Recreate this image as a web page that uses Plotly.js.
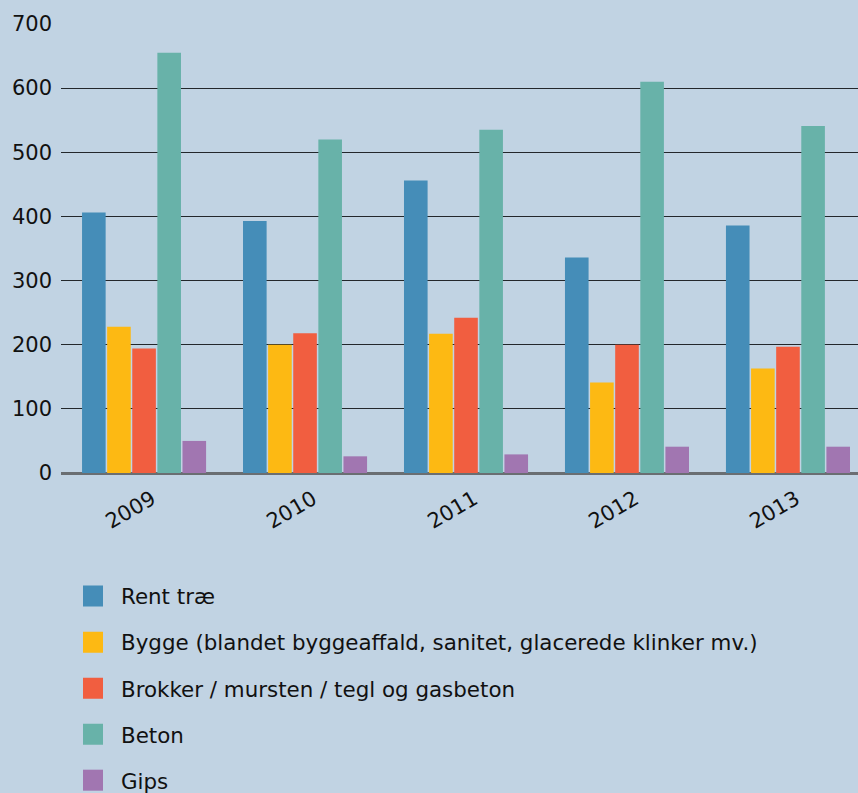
<!DOCTYPE html>
<html>
<head>
<meta charset="utf-8">
<script src="https://cdn.plot.ly/plotly-3.0.1.min.js"></script>
<style>
html,body{margin:0;padding:0;background:#C1D3E3;}
#chart{width:858px;height:793px;}
</style>
</head>
<body>
<div id="chart"></div>
<script>
const years = ["2009", "2010", "2011", "2012", "2013"];
const seriesNames = ["Rent træ", "Bygge (blandet byggeaffald, sanitet, glacerede klinker mv.)", "Brokker / mursten / tegl og gasbeton", "Beton", "Gips"];
const rentTrae = [406, 393, 456, 336, 386];
const bygge = [228, 200, 217, 141, 163];
const brokker = [194, 218, 242, 200, 197];
const beton = [655, 520, 535, 610, 541];
const gips = [50, 26, 29, 41, 41];
const colors = ["#458DB8", "#FDB913", "#F15E40", "#68B2A9", "#A176B1"];
const yTicks = [0, 100, 200, 300, 400, 500, 600, 700];

const allValues = [rentTrae, bygge, brokker, beton, gips];
const traces = allValues.map((vals, i) => ({
  type: "bar",
  name: seriesNames[i],
  x: years,
  y: vals,
  legendgroup: "g" + i,
  marker: {color: colors[i], line: {width: 0}},
  hoverinfo: "x+y+name"
}));

const layout = {
  width: 858, height: 793,
  paper_bgcolor: "#C1D3E3",
  plot_bgcolor: "#C1D3E3",
  font: {family: "DejaVu Sans, Verdana, sans-serif", size: 20, color: "#111"},
  margin: {l: 61, r: 0, t: 24, b: 320, autoexpand: false},
  barmode: "group",
  bargap: 0.22,
  bargroupgap: 0.06,
  showlegend: true,
  xaxis: {
    type: "category",
    range: [-0.516, 4.435],
    tickangle: -30,
    showgrid: false,
    showline: false,
    ticks: "",
    ticklabelshift: 8,
    ticklabelstandoff: 9,
    tickfont: {size: 21, color: "#111"},
    fixedrange: true
  },
  yaxis: {
    range: [0, 700],
    tickvals: yTicks,
    showgrid: true,
    gridcolor: "#23272b",
    gridwidth: 1,
    zeroline: true,
    zerolinecolor: "#6a6e72",
    zerolinewidth: 3,
    ticks: "",
    ticklabelstandoff: 8,
    tickfont: {size: 21, color: "#111"},
    fixedrange: true
  },
  legend: {
    orientation: "v",
    xref: "paper", yref: "paper",
    x: (65 - 61) / 797, y: -(576 - 473.3) / 449,
    xanchor: "left", yanchor: "top",
    traceorder: "grouped",
    tracegroupgap: 15.2,
    itemwidth: 46,
    bgcolor: "rgba(0,0,0,0)",
    font: {size: 21.4, color: "#111"},
    itemclick: false, itemdoubleclick: false
  }
};

Plotly.newPlot("chart", traces, layout, {displayModeBar: false, staticPlot: true}).then(gd => {
  // enlarge legend swatches to match the reference's square keys
  gd.querySelectorAll(".legend .legendpoints path").forEach(p => {
    p.setAttribute("d", "M10,10.5H-10V-10.5H10Z");
  });
});
</script>
</body>
</html>
